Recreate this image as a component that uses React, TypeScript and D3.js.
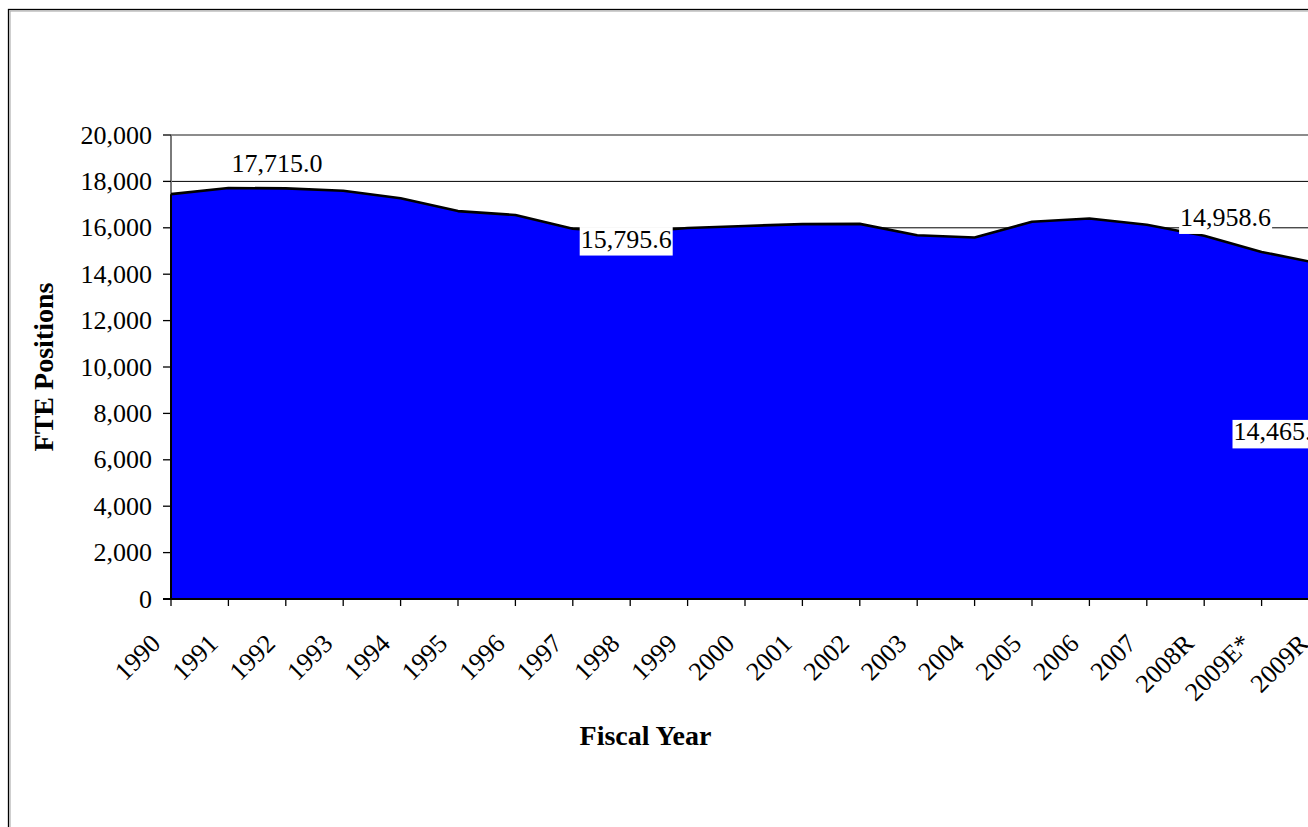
import React from "react";
import * as d3 from "d3";

// ---- data ----
const categories: string[] = [
  "1990", "1991", "1992", "1993", "1994", "1995", "1996", "1997", "1998", "1999",
  "2000", "2001", "2002", "2003", "2004", "2005", "2006", "2007", "2008R", "2009E*", "2009R",
];
const fteValues: number[] = [
  17450, 17715.0, 17700, 17600, 17270, 16720, 16550, 15960, 15795.6, 15990,
  16080, 16160, 16170, 15680, 15580, 16260, 16400, 16130, 15660, 14958.6, 14465.4,
];
const yTickValues: number[] = [0, 2000, 4000, 6000, 8000, 10000, 12000, 14000, 16000, 18000, 20000];
const labelledCategories: string[] = ["1991", "1998", "2009E*", "2009R"];

// ---- layout (not data) ----
const W = 1308;
const H = 827;
const plotLeft = 171;
const plotTop = 135;
const plotBottom = 599;
const catStep = 57.4;
const labelOffsets: Record<string, { dx: number; dy: number; bg: boolean }> = {
  "1991": { dx: 48.6, dy: -16, bg: false },
  "1998": { dx: -4, dy: 15, bg: true },
  "2009E*": { dx: -36, dy: -26, bg: true },
  "2009R": { dx: -40, dy: 177, bg: true },
};

const FONT = "'Liberation Serif', 'Times New Roman', serif";
const fmt = d3.format(",.1f");
const fmtTick = d3.format(",");

function approxWidth(s: string, size: number) {
  let w = 0;
  for (const ch of s) w += /[0-9]/.test(ch) ? 0.5 : 0.25;
  return w * size;
}

export default function App() {
  const x = d3
    .scalePoint<string>()
    .domain(categories)
    .range([plotLeft, plotLeft + catStep * (categories.length - 1)]);
  const y = d3.scaleLinear().domain([0, 20000]).range([plotBottom, plotTop]);

  const area = d3
    .area<number>()
    .x((_, i) => x(categories[i]) as number)
    .y0(y(0))
    .y1((d) => y(d));
  const line = d3
    .line<number>()
    .x((_, i) => x(categories[i]) as number)
    .y((d) => y(d));

  const plotRight = x(categories[categories.length - 1]) as number;

  return (
    <svg
      width={W}
      height={H}
      viewBox={`0 0 ${W} ${H}`}
      style={{ position: "absolute", left: 0, top: 0, background: "#fff" }}
    >
      {/* chart frame */}
      <rect x={8.5} y={9.5} width={1500} height={1000} fill="#fff" stroke="#000" strokeWidth={1.3} />
      <rect x={10} y={11} width={1500} height={1000} fill="none" stroke="#b0b0b0" strokeWidth={1.2} />

      {/* gridlines */}
      {yTickValues
        .filter((t) => t > 0 && t < 20000)
        .map((t) => (
          <line key={t} x1={plotLeft} x2={plotRight} y1={y(t)} y2={y(t)} stroke="#000" strokeWidth={1} />
        ))}
      {/* plot area top border */}
      <line x1={plotLeft} x2={plotRight + 10} y1={y(20000)} y2={y(20000)} stroke="#8c8c8c" strokeWidth={2} />
      {/* y axis line */}
      <line x1={plotLeft} x2={plotLeft} y1={y(20000)} y2={y(0)} stroke="#7a7a7a" strokeWidth={2} />

      {/* area */}
      <path d={area(fteValues) || ""} fill="#0000FF" stroke="none" />
      <path d={line(fteValues) || ""} fill="none" stroke="#000" strokeWidth={2.6} strokeLinejoin="round" />
      <line
        x1={plotLeft}
        x2={plotLeft}
        y1={y(fteValues[0])}
        y2={y(0)}
        stroke="#000"
        strokeWidth={2}
      />

      {/* x axis */}
      <line x1={plotLeft - 8} x2={plotRight} y1={y(0)} y2={y(0)} stroke="#000" strokeWidth={2.2} />
      {categories.map((c) => (
        <line
          key={"xt" + c}
          x1={x(c) as number}
          x2={x(c) as number}
          y1={y(0)}
          y2={y(0) + 7}
          stroke="#000"
          strokeWidth={1.3}
        />
      ))}
      {categories.map((c) => (
        <text
          key={"xl" + c}
          transform={`translate(${(x(c) as number) - 9},${645}) rotate(-45)`}
          textAnchor="end"
          fontFamily={FONT}
          fontSize={26}
          fill="#000"
        >
          {c}
        </text>
      ))}

      {/* y ticks */}
      {yTickValues.map((t) => (
        <g key={"yt" + t}>
          <line x1={plotLeft - 8} x2={plotLeft} y1={y(t)} y2={y(t)} stroke="#000" strokeWidth={1.3} />
          <text
            x={152}
            y={y(t) + 8.6}
            textAnchor="end"
            fontFamily={FONT}
            fontSize={26}
            fill="#000"
          >
            {fmtTick(t)}
          </text>
        </g>
      ))}

      {/* data labels */}
      {labelledCategories.map((c) => {
        const i = categories.indexOf(c);
        const v = fteValues[i];
        const off = labelOffsets[c];
        const cx = (x(c) as number) + off.dx;
        const by = y(v) + off.dy;
        const txt = fmt(v);
        const w = approxWidth(txt, 26);
        return (
          <g key={"lab" + c}>
            {off.bg && (
              <rect x={cx - w / 2 - 1} y={by - 20.5} width={w + 2} height={28.5} fill="#fff" />
            )}
            <text x={cx} y={by} textAnchor="middle" fontFamily={FONT} fontSize={26} fill="#000">
              {txt}
            </text>
          </g>
        );
      })}

      {/* axis titles */}
      <text
        transform={`translate(53,${(plotTop + plotBottom) / 2}) rotate(-90)`}
        textAnchor="middle"
        fontFamily={FONT}
        fontWeight="bold"
        fontSize={28}
        fill="#000"
      >
        FTE Positions
      </text>
      <text
        x={645.5}
        y={745}
        textAnchor="middle"
        fontFamily={FONT}
        fontWeight="bold"
        fontSize={28}
        fill="#000"
      >
        Fiscal Year
      </text>
    </svg>
  );
}
